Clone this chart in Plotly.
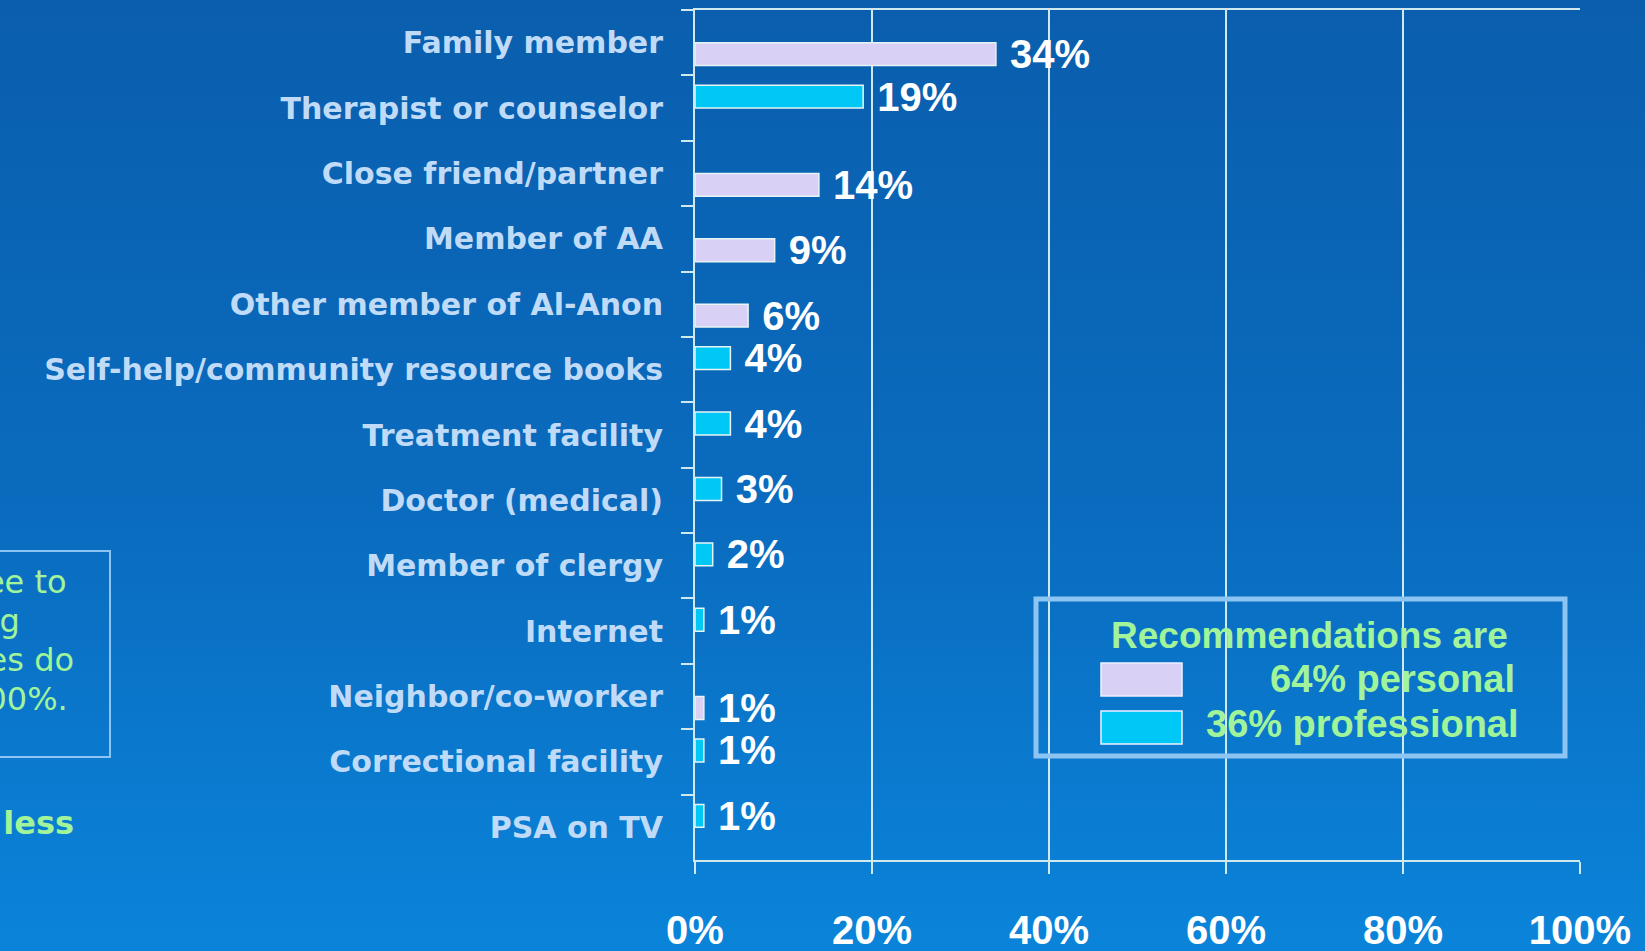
import base64
import plotly.graph_objects as go

# ---------------- data ----------------
categories = [
    "Family member", "Therapist or counselor", "Close friend/partner", "Member of AA",
    "Other member of Al-Anon", "Self-help/community resource books", "Treatment facility",
    "Doctor (medical)", "Member of clergy", "Internet", "Neighbor/co-worker",
    "Correctional facility", "PSA on TV",
]
percent = [34, 19, 14, 9, 6, 4, 4, 3, 2, 1, 1, 1, 1]
source_type = ["personal", "professional", "personal", "personal", "personal",
               "professional", "professional", "professional", "professional",
               "professional", "personal", "professional", "professional"]
x_ticks = [0, 20, 40, 60, 80, 100]
x_tick_labels = ["0%", "20%", "40%", "60%", "80%", "100%"]
legend_title = "Recommendations are"
legend_labels = ["64% personal", "36% professional"]
note_lines = ["Respondents were free to", "more than one, resulting",
              "so the percentages do", "not add up to 100%."]
note_footer = "* 1% or less"

personal_vals = [v if t == "personal" else None for v, t in zip(percent, source_type)]
professional_vals = [v if t == "professional" else None for v, t in zip(percent, source_type)]

# ---------------- style ----------------
W, H = 1645, 951
L, R, T, B = 695, 65, 10, 91
PW, PH = W - L - R, H - T - B
C_PERSONAL = "#d9d0f5"
C_PROF = "#00c8f6"
C_GRID = "#cfe9ee"
C_LABEL = "#c0dbf7"
C_GREEN = "#a2f49a"
C_BORDER = "#8cc4f2"


def px(x):
    return (x - L) / PW


def py(y):
    return 1 - (y - T) / PH


vfont = dict(family="Liberation Sans", size=40, color="#ffffff", weight="bold")
fig = go.Figure()
fig.add_trace(go.Bar(
    y=categories, x=professional_vals, orientation="h", name="professional",
    marker=dict(color=C_PROF, line=dict(color="#e6f4f4", width=1.5)),
    texttemplate=" %{x}%", textposition="outside", cliponaxis=False,
    constraintext="none", textfont=vfont, showlegend=False,
))
fig.add_trace(go.Bar(
    y=categories, x=personal_vals, orientation="h", name="personal",
    marker=dict(color=C_PERSONAL, line=dict(color="#e6f4f4", width=1.5)),
    texttemplate=" %{x}%", textposition="outside", cliponaxis=False,
    constraintext="none", textfont=vfont, showlegend=False,
))

# background gradient
svg = ('<svg xmlns="http://www.w3.org/2000/svg" width="100" height="100" viewBox="0 0 100 100" '
       'preserveAspectRatio="none">'
       '<defs><linearGradient id="g" x1="0" y1="0" x2="0" y2="1">'
       '<stop offset="0" stop-color="#0a5ead"/><stop offset="0.55" stop-color="#0a6cbf"/>'
       '<stop offset="1" stop-color="#0a84da"/></linearGradient></defs>'
       '<rect width="100" height="100" fill="url(#g)"/></svg>')
uri = "data:image/svg+xml;base64," + base64.b64encode(svg.encode()).decode()

fig.update_layout(
    width=W, height=H,
    margin=dict(l=L, r=R, t=T, b=B, pad=0, autoexpand=False),
    paper_bgcolor="#0a7ccf", plot_bgcolor="rgba(0,0,0,0)",
    barmode="group", bargap=0.3, bargroupgap=0,
    images=[dict(source=uri, xref="paper", yref="paper", x=px(0), y=py(0),
                 sizex=px(W) - px(0), sizey=py(0) - py(H), sizing="stretch",
                 xanchor="left", yanchor="top", layer="below")],
    xaxis=dict(
        range=[0, 100], tickvals=x_ticks, ticktext=x_tick_labels,
        showgrid=True, gridcolor=C_GRID, gridwidth=2,
        showline=True, linecolor=C_GRID, linewidth=2, mirror=True,
        ticks="outside", ticklen=12, tickcolor=C_GRID, tickwidth=2,
        ticklabelstandoff=22, automargin=False,
        tickfont=dict(family="Liberation Sans", size=40, color="#ffffff", weight="bold"),
        zeroline=False, fixedrange=True,
    ),
    yaxis=dict(
        type="category", range=[len(categories) - 0.5, -0.5],
        tickson="boundaries", ticks="outside", ticklen=12, tickcolor=C_GRID, tickwidth=2,
        showline=True, linecolor=C_GRID, linewidth=2, showgrid=False,
        ticklabelstandoff=24, automargin=False,
        tickfont=dict(family="DejaVu Sans", size=30, color=C_LABEL, weight="bold"),
        fixedrange=True,
    ),
)

# legend box (custom)
shapes = [
    dict(type="rect", xref="paper", yref="paper", x0=px(1036), x1=px(1565), y0=py(756), y1=py(599),
         line=dict(color=C_BORDER, width=5), fillcolor="rgba(0,0,0,0)"),
    dict(type="rect", xref="paper", yref="paper", x0=px(1101), x1=px(1182), y0=py(696), y1=py(663),
         line=dict(color="#f0f0ff", width=1.5), fillcolor=C_PERSONAL),
    dict(type="rect", xref="paper", yref="paper", x0=px(1101), x1=px(1182), y0=py(744), y1=py(711),
         line=dict(color="#f0f0ff", width=1.5), fillcolor=C_PROF),
    dict(type="rect", xref="paper", yref="paper", x0=px(-20), x1=px(110), y0=py(757), y1=py(551),
         line=dict(color=C_BORDER, width=2), fillcolor="rgba(0,0,0,0)"),
]
fig.update_layout(shapes=shapes)

ann = []
lf_title = dict(family="Liberation Sans", size=37, color=C_GREEN, weight="bold")
lf = dict(family="Liberation Sans", size=38, color=C_GREEN, weight="bold")
ann.append(dict(text=legend_title, x=px(1309), y=py(635), xref="paper", yref="paper",
                xanchor="center", yanchor="middle", showarrow=False, font=lf_title))
ann.append(dict(text=legend_labels[0], x=px(1517), y=py(679), xref="paper", yref="paper",
                xanchor="right", yanchor="middle", showarrow=False, font=lf))
ann.append(dict(text=legend_labels[1], x=px(1521), y=py(724), xref="paper", yref="paper",
                xanchor="right", yanchor="middle", showarrow=False, font=lf))

nf = dict(family="DejaVu Sans", size=32, color=C_GREEN)
note_right = [69, 22, 76, 70]
note_y = [582, 621, 660, 699]
for line, xr, yy in zip(note_lines, note_right, note_y):
    ann.append(dict(text=line, x=px(xr), y=py(yy), xref="paper", yref="paper",
                    xanchor="right", yanchor="middle", showarrow=False, font=nf))
ann.append(dict(text=note_footer, x=px(76), y=py(823), xref="paper", yref="paper",
                xanchor="right", yanchor="middle", showarrow=False,
                font=dict(family="DejaVu Sans", size=32, color=C_GREEN, weight="bold")))
fig.update_layout(annotations=ann)

fig.write_html("out.html", config={"displayModeBar": False},
               post_script="document.body.style.margin='0';document.body.style.overflow='hidden';")
